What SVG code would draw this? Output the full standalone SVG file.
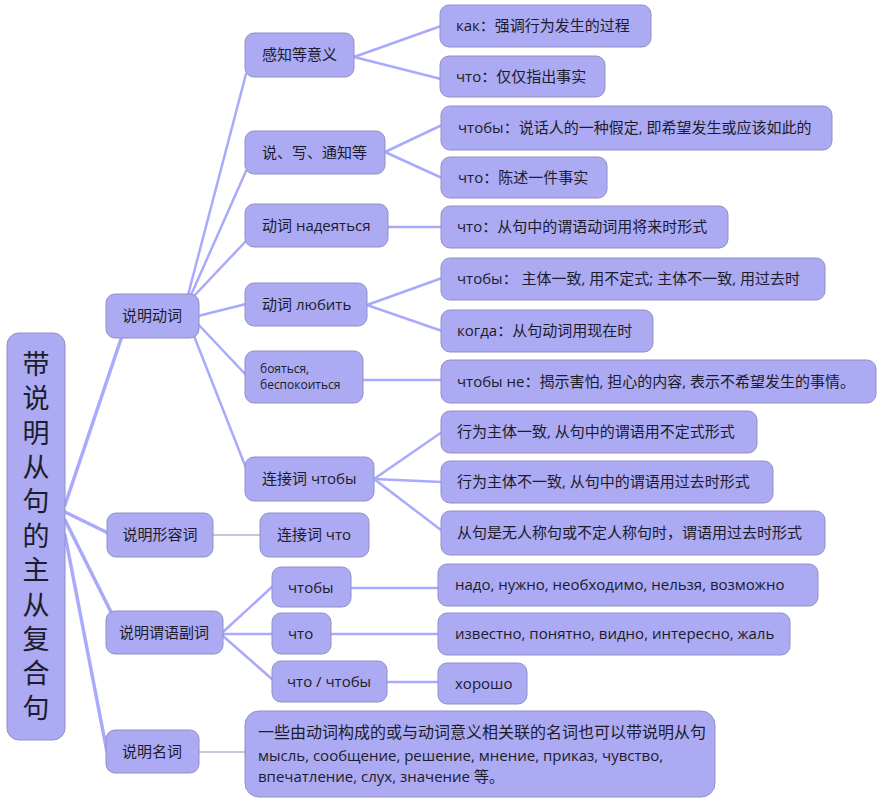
<svg xmlns="http://www.w3.org/2000/svg" width="885" height="804" viewBox="0 0 885 804">
<style>
.n rect{fill:#abaaf2;stroke:#9090c4;stroke-width:1}
text{font-family:"Open Sans","Noto Sans CJK SC",sans-serif;font-size:15px;fill:#1c1c2c}
.c{text-anchor:middle}
.s{font-size:12px}
.big{font-size:16px}
.root{font-family:"Noto Sans CJK SC","Liberation Sans",sans-serif;font-size:27px;writing-mode:vertical-rl;letter-spacing:7.4px}
.e line{stroke:#a9aafc;stroke-width:2.5;stroke-linecap:round}
.e line.t{stroke-width:3.5}
.e line.g{stroke:#b4b4cc;stroke-width:1.6}
</style>
<rect width="885" height="804" fill="#ffffff"/>
<g class="e" id="connectors">
<line class="t" x1="65" y1="505" x2="122" y2="336"/>
<line class="t" x1="65" y1="512" x2="108" y2="533"/>
<line class="t" x1="65" y1="520" x2="111" y2="612"/>
<line class="t" x1="65" y1="535" x2="107" y2="752"/>
<line x1="188" y1="295" x2="246" y2="74"/>
<line x1="191" y1="295" x2="246" y2="171"/>
<line x1="194" y1="296" x2="246" y2="241"/>
<line x1="198" y1="316" x2="246" y2="304"/>
<line x1="198" y1="324" x2="246" y2="375"/>
<line x1="194" y1="336" x2="246" y2="468"/>
<line x1="354" y1="57" x2="441" y2="26"/>
<line x1="354" y1="57" x2="441" y2="79"/>
<line x1="385" y1="152" x2="442" y2="125"/>
<line x1="385" y1="152" x2="442" y2="178"/>
<line x1="388" y1="227" x2="442" y2="227"/>
<line x1="367" y1="305" x2="442" y2="278"/>
<line x1="367" y1="305" x2="442" y2="331"/>
<line x1="363" y1="380" x2="442" y2="380"/>
<line x1="374" y1="479" x2="442" y2="432"/>
<line x1="374" y1="479" x2="442" y2="482"/>
<line x1="374" y1="479" x2="441" y2="530"/>
<line class="g" x1="213" y1="535" x2="261" y2="535"/>
<line x1="223" y1="632" x2="273" y2="586"/>
<line x1="223" y1="634" x2="273" y2="634"/>
<line x1="223" y1="636" x2="273" y2="680"/>
<line x1="351" y1="588" x2="439" y2="588"/>
<line x1="331" y1="634" x2="439" y2="634"/>
<line x1="387" y1="682" x2="439" y2="682"/>
<line class="g" x1="199" y1="752" x2="246" y2="752"/>
</g>
<g class="n" id="root"><rect x="7" y="333" width="58" height="407" rx="12"/>
<text class="root" x="36" y="350">带说明从句的主从复合句</text></g>
<g class="n" id="verb"><rect x="106" y="294" width="93" height="44" rx="9"/><text class="c" x="152" y="321">说明动词</text></g>
<g class="n" id="adj"><rect x="107" y="513" width="106" height="44" rx="9"/><text class="c" x="160" y="540">说明形容词</text></g>
<g class="n" id="adv"><rect x="106" y="611" width="117" height="43" rx="9"/><text class="c" x="164" y="638">说明谓语副词</text></g>
<g class="n" id="noun"><rect x="106" y="730" width="93" height="43" rx="9"/><text class="c" x="152" y="757">说明名词</text></g>
<g class="n" id="v1"><rect x="245" y="33" width="109" height="44" rx="9"/><text x="262" y="60">感知等意义</text></g>
<g class="n" id="v2"><rect x="245" y="131" width="140" height="43" rx="9"/><text x="262" y="158">说、写、通知等</text></g>
<g class="n" id="v3"><rect x="245" y="204" width="143" height="43" rx="9"/><text x="262" y="231">动词 надеяться</text></g>
<g class="n" id="v4"><rect x="245" y="283" width="122" height="43" rx="9"/><text x="262" y="310">动词 любить</text></g>
<g class="n" id="v5"><rect x="245" y="351" width="118" height="52" rx="9"/><text class="s" x="260" y="373">бояться,</text><text class="s" x="260" y="389">беспокоиться</text></g>
<g class="n" id="v6"><rect x="245" y="457" width="129" height="44" rx="9"/><text x="262" y="484">连接词 чтобы</text></g>
<g class="n" id="l1"><rect x="440" y="5" width="211" height="42" rx="9"/><text x="456" y="31">как：强调行为发生的过程</text></g>
<g class="n" id="l2"><rect x="440" y="56" width="165" height="41" rx="9"/><text x="456" y="82">что：仅仅指出事实</text></g>
<g class="n" id="l3"><rect x="441" y="106" width="391" height="44" rx="9"/><text x="458" y="133">чтобы：说话人的一种假定, 即希望发生或应该如此的</text></g>
<g class="n" id="l4"><rect x="441" y="157" width="166" height="41" rx="9"/><text x="458" y="183">что：陈述一件事实</text></g>
<g class="n" id="l5"><rect x="441" y="206" width="287" height="42" rx="9"/><text x="457" y="232">что：从句中的谓语动词用将来时形式</text></g>
<g class="n" id="l6"><rect x="441" y="258" width="384" height="42" rx="9"/><text x="457" y="284">чтобы：  主体一致, 用不定式; 主体不一致, 用过去时</text></g>
<g class="n" id="l7"><rect x="441" y="310" width="212" height="42" rx="9"/><text x="457" y="336">когда：从句动词用现在时</text></g>
<g class="n" id="l8"><rect x="441" y="360" width="435" height="43" rx="9"/><text x="457" y="387">чтобы не：揭示害怕, 担心的内容, 表示不希望发生的事情。</text></g>
<g class="n" id="l9"><rect x="441" y="411" width="316" height="42" rx="9"/><text x="457" y="437">行为主体一致, 从句中的谓语用不定式形式</text></g>
<g class="n" id="l10"><rect x="441" y="461" width="332" height="42" rx="9"/><text x="457" y="487">行为主体不一致, 从句中的谓语用过去时形式</text></g>
<g class="n" id="l11"><rect x="441" y="511" width="384" height="44" rx="9"/><text x="457" y="538">从句是无人称句或不定人称句时，谓语用过去时形式</text></g>
<g class="n" id="a1"><rect x="260" y="513" width="109" height="44" rx="9"/><text class="c" x="314" y="540">连接词 что</text></g>
<g class="n" id="d1"><rect x="272" y="567" width="79" height="40" rx="9"/><text x="288" y="593">чтобы</text></g>
<g class="n" id="d2"><rect x="272" y="613" width="59" height="41" rx="9"/><text x="288" y="639">что</text></g>
<g class="n" id="d3"><rect x="272" y="661" width="115" height="41" rx="9"/><text x="287" y="687">что / чтобы</text></g>
<g class="n" id="e1"><rect x="438" y="564" width="380" height="42" rx="9"/><text x="455" y="590">надо, нужно, необходимо, нельзя, возможно</text></g>
<g class="n" id="e2"><rect x="438" y="613" width="352" height="42" rx="9"/><text x="455" y="639">известно, понятно, видно, интересно,  жаль</text></g>
<g class="n" id="e3"><rect x="438" y="663" width="89" height="41" rx="9"/><text x="455" y="689">хорошо</text></g>
<g class="n" id="m1"><rect x="245" y="711" width="470" height="86" rx="14"/>
<text class="big" x="258" y="738">一些由动词构成的或与动词意义相关联的名词也可以带说明从句</text>
<text x="258" y="761">мысль, сообщение, решение, мнение, приказ, чувство,</text>
<text x="258" y="782">впечатление, слух, значение 等。</text></g>
</svg>
